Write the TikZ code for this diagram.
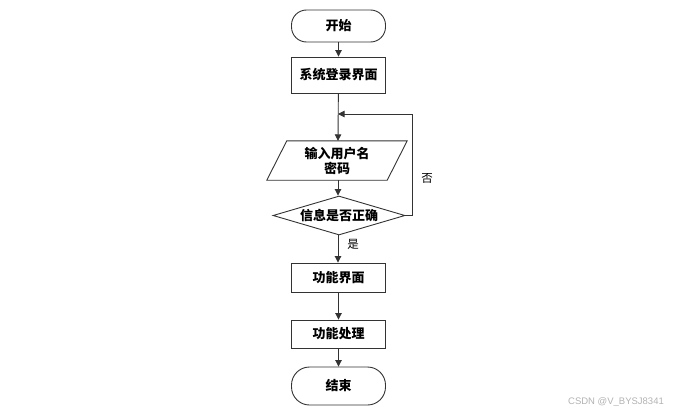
\documentclass[tikz,border=0pt]{standalone}
\usepackage{fontspec}
\setmainfont{Noto Sans CJK SC}
\newfontfamily\wmfont{Liberation Sans}
\usetikzlibrary{shapes.geometric,arrows.meta,calc}
\begin{document}
\begin{tikzpicture}[x=1pt,y=-1pt,
  line/.style={draw=black!80, line width=0.9pt},
  arr/.style={line, -{Triangle[length=6.5pt,width=6.5pt]}},
  bigtext/.style={font=\bfseries\fontsize{13}{15}\selectfont},
  term/.style={line, rectangle, rounded corners=15pt, minimum width=94pt, bigtext, inner sep=0pt},
  procbox/.style={line, rectangle, minimum width=94pt, bigtext, inner sep=0pt},
  dec/.style={line, diamond, aspect=3.4, minimum width=132pt, minimum height=39pt, inner sep=0pt, bigtext},
  plain/.style={bigtext, align=center, inner sep=0pt},
  lbl/.style={font=\fontsize{11.5}{13}\selectfont, inner sep=0pt}
]
\useasboundingbox (0,0) rectangle (685,415);
\node[term, minimum height=32pt] (start) at (338.5,26) {开始};
\node[procbox, minimum height=36pt] (login) at (338.5,75) {系统登录界面};
\node[plain, minimum width=140pt, minimum height=39pt] (input) at (337,160.5) {输入用户名\\密码};
\draw[line] ($(input.north west)+(20,0)$) -- (input.north east) -- ($(input.south east)+(-20,0)$) -- (input.south west) -- cycle;
\node[dec] (check) at (339,215.5) {信息是否正确};
\node[procbox, minimum height=29pt] (func) at (338.5,277.5) {功能界面};
\node[procbox, minimum height=28pt] (proc) at (338.5,334) {功能处理};
\node[term, minimum height=38pt, rounded corners=18pt] (end) at (338.5,386) {结束};
\coordinate (j) at (338,114);
\coordinate (r) at (412,215.5);
\coordinate (rt) at (412,114);
\node[lbl] (yes) at (353,244) {是};
\node[lbl] (no) at (427,178) {否};
\node[font=\wmfont\fontsize{9.5}{11}\selectfont, text=black!30, inner sep=0pt] (wm) at (616,402) {CSDN @V\_BYSJ8341};
\draw[arr] (start) -- (login);
\draw[arr] (login) -- (input.north -| j);
\draw[arr] (input.south -| j) -- (check.north -| j);
\draw[arr] (check.south -| j) -- (func.north -| j);
\draw[arr] (func) -- (proc);
\draw[arr] (proc) -- (end);
\draw[arr] (check.east) -- (r) -- (rt) -- (j);
\end{tikzpicture}
\end{document}
